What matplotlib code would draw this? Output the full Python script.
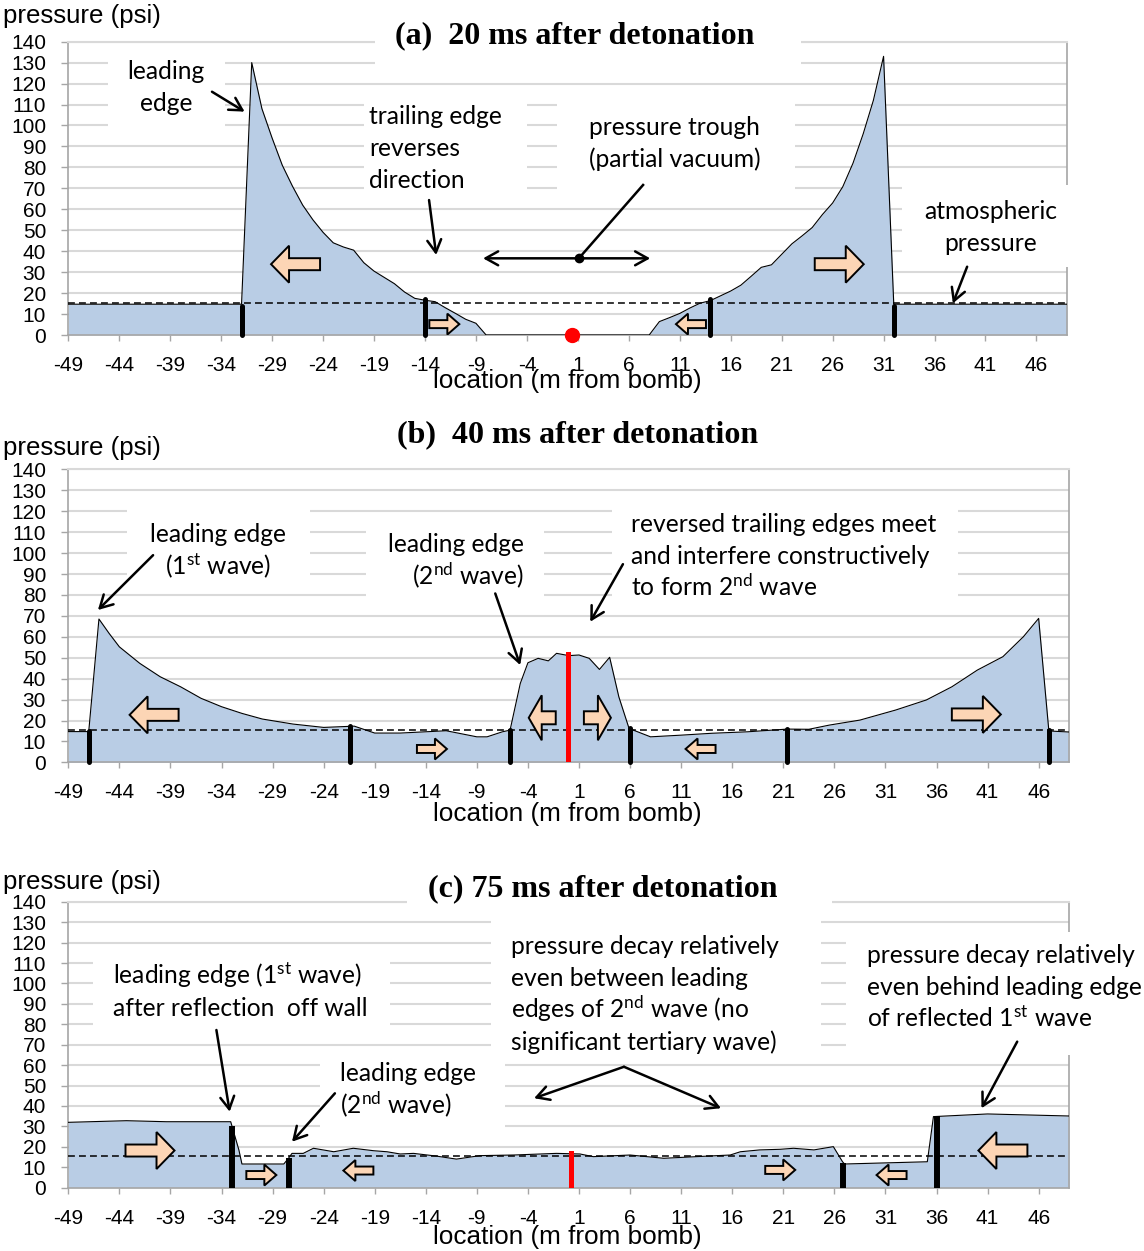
import numpy as np
import matplotlib
matplotlib.use("Agg")
from matplotlib import pyplot as plt
from matplotlib.patches import Polygon, Rectangle
from matplotlib.transforms import ScaledTranslation, IdentityTransform, Bbox

plt.rcParams['mathtext.fontset'] = 'custom'
plt.rcParams['mathtext.rm'] = 'Lato'
plt.rcParams['mathtext.it'] = 'Lato:italic'
plt.rcParams['axes.unicode_minus'] = False

# ---- data ----
# (a) 20 ms
x_a = [-49, -32, -31, -30, -29, -28, -27, -26, -25, -24, -23, -22, -21, -20, -19, -18, -17,
       -16, -15, -14, -13, -12, -11, -10, -9, -8, 8, 9, 10, 11, 12, 13, 14, 15, 16, 17, 18,
       19, 20, 21, 22, 23, 24, 25, 26, 27, 28, 29, 30, 31, 32, 49]
p_a = [14.7, 14.7, 130, 108, 94, 81, 71, 62, 55, 49, 44, 42, 40.5, 34.5, 30.5, 27.5, 24.5,
       20.5, 17.5, 16.6, 15.9, 13, 10.3, 7.5, 5.6, 0, 0, 6.4, 8.3, 10.3, 12.9, 15.2, 16.4, 18.7,
       21, 23.8, 28, 32.3, 33.5, 38.5, 43.5, 47.3, 51.3, 57.5, 63, 70.8, 82, 96, 112, 133, 14.7, 14.7]

# (b) 40 ms
x_b = [-49, -47, -46, -45, -44, -42, -40, -38, -36, -34, -32, -30, -27, -24, -21, -19, -16.5,
       -12, -9, -8, -6.5, -5.75, -4.75, -4, -3, -2, -1.2, 0, 1, 2, 3, 4, 4.9, 5.9, 8, 11, 14,
       17.5, 21.4, 23.5, 25.5, 28.5, 32, 35, 37.5, 40, 42.5, 44.5, 46, 47, 49]
p_b = [14.7, 14.7, 68.5, 61.6, 55.2, 47.3, 40.9, 36.1, 30.6, 26.6, 23.4, 20.7, 18.3, 16.7,
       17.3, 14, 14, 15.1, 12.2, 12.2, 14.6, 15.4, 37.7, 47.6, 49.7, 48.5, 52.1, 51, 51.3, 49.7,
       44.4, 50.2, 31.3, 16.2, 12.2, 13, 13.9, 14.6, 15.9, 15.8, 17.8, 20.2, 25, 29.8, 36.1,
       44.1, 50.5, 60, 68.8, 15, 14.5]

# (c) 75 ms
x_c = [-49, -43.3, -39.4, -33.1, -32.3, -32, -27.9, -27.4, -27.1, -26, -25, -23, -21.1, -19.1,
       -17.8, -16.5, -15.2, -13, -11, -8.7, -5.4, -1.2, 1.1, 2.4, 6, 9.3, 12.5, 15.8, 16.8, 18.7,
       20.7, 22, 24, 25.9, 26.8, 27, 35.1, 35.7, 41, 49]
p_c = [32, 32.8, 32.3, 32.3, 18.5, 11.6, 11.6, 14.7, 16.8, 16.8, 19.3, 17.6, 19.3, 18.1,
       17.6, 16.5, 16.8, 15.5, 14, 15.7, 16, 16.8, 16.5, 15.2, 16, 14.4, 15.2, 16, 17.6, 18.5,
       18.8, 19.3, 18.5, 20.1, 12.7, 11.6, 12.7, 34.8, 36.1, 35.1]

atm = 15.5  # dashed reference line

# black wave-front markers (x, top)
bars_a = [(-32, 14), (-14, 17), (14, 17), (32, 14)]
bars_b = [(-47, 15), (-21.4, 17.3), (-5.75, 15.4), (6, 16.2), (21.4, 16), (47, 15.4)]
bars_c = [(-33, 30), (-27.4, 14.7), (26.8, 12), (36, 35)]

# block arrows: (x, y, direction, size)
blocks_a = [(-26.7, 33.8, -1, 'big'), (26.65, 33.8, 1, 'big'),
            (-12.1, 5.2, 1, 'small'), (12.1, 5.2, -1, 'small')]
blocks_b = [(-40.6, 22.7, -1, 'big'), (39.9, 22.9, 1, 'big'),
            (-2.6, 21.3, -1, 'tall'), (2.8, 21.3, 1, 'tall'),
            (-13.4, 6.4, 1, 'small'), (12.9, 6.4, -1, 'small')]
blocks_c = [(-41.0, 18.2, 1, 'big'), (42.5, 18.2, -1, 'big'),
            (-30.1, 6.2, 1, 'small'), (-20.6, 8.4, -1, 'small'),
            (20.7, 8.7, 1, 'small'), (31.6, 6.2, -1, 'small')]
# length, head height, shaft height, head length (pixels)
shapes = {'big': (49, 37, 12, 18), 'tall': (27, 45, 13, 13), 'small': (30, 21, 8, 12)}

tick_pos = list(range(-49, 47, 5))

AREA = '#B9CDE5'
PEACH = '#FCD5B5'
GRID = '#D9D9D9'
AXIS = '#A6A6A6'
NOTE = 'Lato'
SANS = 'Liberation Sans'
SERIF = 'Liberation Serif'
W, H = 1144, 1251
LINE = 32  # px between annotation lines

fig = plt.figure(figsize=(W / 100, H / 100), dpi=100)
boxes = []  # white backgrounds behind the notes, sized after a first draw


def fx(px):
    return px / W


def fy(py):
    return 1 - py / H


def setup(ax):
    ax.set_xlim(-49, 49)
    ax.set_ylim(0, 140)
    ax.set_yticks(range(0, 141, 10))
    ax.set_xticks(tick_pos)
    ax.set_xticklabels([str(t) for t in tick_pos], fontfamily=SANS, fontsize=15)
    ax.set_yticklabels([str(t) for t in range(0, 141, 10)], fontfamily=SANS, fontsize=15)
    ax.grid(axis='y', color=GRID, lw=1.5)
    ax.set_axisbelow(True)
    for s in ['left', 'bottom', 'right']:
        ax.spines[s].set_color(AXIS)
        ax.spines[s].set_linewidth(1.2)
    ax.spines['top'].set_color(GRID)
    ax.spines['top'].set_linewidth(1.5)
    ax.tick_params(axis='y', length=5, width=1, color=AXIS, pad=11)
    ax.tick_params(axis='x', length=4.5, width=1, color=AXIS, pad=10.5)


def block(ax, x, y, d, kind):
    L, Hh, S, HL = [v / 100 for v in shapes[kind]]
    pts = [(-L / 2, -S / 2), (L / 2 - HL, -S / 2), (L / 2 - HL, -Hh / 2), (L / 2, 0),
           (L / 2 - HL, Hh / 2), (L / 2 - HL, S / 2), (-L / 2, S / 2)]
    pts = [(d * a, b) for a, b in pts]
    tr = fig.dpi_scale_trans + ScaledTranslation(x, y, ax.transData)
    ax.add_patch(Polygon(pts, closed=True, fc=PEACH, ec='black', lw=1.4,
                         transform=tr, zorder=6))


def profile(ax, xs, ps, bars, blocks, capstyle='round', barw=3.6):
    ax.fill_between(xs, 0, ps, color=AREA, lw=0, zorder=2)
    ax.plot(xs, ps, color='black', lw=0.8, zorder=3)
    ax.axhline(atm, color='black', lw=1.1, dashes=(4.5, 2.7), zorder=4)
    for bx, top in bars:
        ax.plot([bx, bx], [0, top], color='black', lw=barw, solid_capstyle=capstyle,
                zorder=5, clip_on=False)
    for b in blocks:
        block(ax, *b)


def arrow(ax, tail, tip, style='->'):
    ax.annotate('', xy=tip, xytext=tail,
                arrowprops=dict(arrowstyle=style + ',head_length=0.45,head_width=0.25',
                                mutation_scale=20, lw=1.8, color='black',
                                shrinkA=0, shrinkB=0), zorder=7)


def note(ax, x, y, lines, ha='left', pads=(8, 8, 8, 8)):
    # one text per line so the spacing stays even with superscripts
    n = len(lines)
    texts = []
    for i, s in enumerate(lines):
        dy = -((i - (n - 1) / 2) * LINE + 7) / 100
        tr = ax.transData + ScaledTranslation(0, dy, fig.dpi_scale_trans)
        texts.append(ax.text(x, y, s, fontfamily=NOTE, fontsize=17.7, ha=ha, va='baseline',
                             transform=tr, zorder=4.6))
    boxes.append((ax, texts, pads))


def title(ax, x, y, s, pads=None):
    t = ax.text(x, y, s, fontfamily=SERIF, fontweight='bold', fontsize=23, ha='center',
                va='center', zorder=4.6)
    if pads:
        boxes.append((ax, [t], pads))


def labels(ylab_py, xlab_py):
    fig.text(fx(3), fy(ylab_py), 'pressure (psi)', fontfamily=SANS, fontsize=18.6,
             ha='left', va='center')
    fig.text(fx(567), fy(xlab_py), 'location (m from bomb)', fontfamily=SANS, fontsize=18.8,
             ha='center', va='center')


# pads are (left, right, top, bottom) in pixels around the text

# ---------- (a) ----------
ax_a = fig.add_axes([0.0597, 0.7322, 0.8730, 0.2345])
setup(ax_a)
profile(ax_a, x_a, p_a, bars_a, blocks_a)
ax_a.plot([0.4], [0], 'o', color='red', ms=10, zorder=6, clip_on=False)
title(ax_a, 0.68, 142.7, '(a)  20 ms after detonation', pads=(20, 47, 4, 24))
note(ax_a, -39.4, 117.9, ['leading', 'edge'], ha='center', pads=(20, 20, 10, 16))
arrow(ax_a, (-34.9, 116.1), (-31.7, 106.6))
note(ax_a, -19.5, 88.8, ['trailing edge', 'reverses', 'direction'], pads=(5, 25, 8, 4))
arrow(ax_a, (-13.6, 64.4), (-12.9, 38.2))
note(ax_a, 10.5, 91.2, ['pressure trough', '(partial vacuum)'], pads=(32, 35, 18, 24),
     ha='center')
arrow(ax_a, (-8.3, 36.6), (8.1, 36.6), style='<->')
ax_a.plot([7.4, 1.1], [71.6, 36.6], color='black', lw=1.8, zorder=7)
ax_a.plot([1.1], [36.6], 'o', color='black', ms=6, zorder=8)
note(ax_a, 41.5, 51.1, ['atmospheric', 'pressure'], ha='center', pads=(22, 15, 15, 12))
arrow(ax_a, (39.2, 32.6), (37.8, 15.1))
labels(16, 381)

# ---------- (b) ----------
ax_b = fig.add_axes([0.0597, 0.3906, 0.875, 0.2342])
setup(ax_b)
profile(ax_b, x_b, p_b, bars_b, blocks_b)
ax_b.plot([-0.1, -0.1], [0, 52], color='red', lw=3.6, zorder=5)
title(ax_b, 0.84, 156.4, '(b)  40 ms after detonation')
note(ax_b, -34.3, 101, ['leading edge', '(1$^{\\mathrm{st}}$ wave)'], ha='center',
     pads=(23, 24, 16, 10))
arrow(ax_b, (-40.7, 99), (-46.1, 72.8))
note(ax_b, -4.4, 96.2, ['leading edge', '(2$^{\\mathrm{nd}}$ wave)'], ha='right',
     pads=(22, 20, 10, 10))
arrow(ax_b, (-7.2, 80.7), (-4.76, 46.5))
note(ax_b, 6.1, 97.9, ['reversed trailing edges meet', 'and interfere constructively',
                       'to form 2$^{\\mathrm{nd}}$ wave'], pads=(19, 22, 8, 4))
arrow(ax_b, (5.3, 94.7), (2.1, 67.2))
labels(448, 814)

# ---------- (c) ----------
ax_c = fig.add_axes([0.0597, 0.0506, 0.875, 0.2286])
setup(ax_c)
profile(ax_c, x_c, p_c, bars_c, blocks_c, capstyle='butt', barw=4.3)
ax_c.plot([0.2, 0.2], [0, 16.8], color='red', lw=3.6, zorder=5)
title(ax_c, 3.3, 146.5, '(c) 75 ms after detonation', pads=(21, 55, 2, 8))
note(ax_c, -44.6, 95.5, ['leading edge (1$^{\\mathrm{st}}$ wave)',
                         'after reflection  off wall'], pads=(20, 22, 8, 8))
arrow(ax_c, (-34.5, 77.2), (-33.2, 37.2))
note(ax_c, -22.4, 47.8, ['leading edge', '(2$^{\\mathrm{nd}}$ wave)'], pads=(20, 29, 4, 12))
arrow(ax_c, (-22.9, 46.2), (-27.1, 22.5))
note(ax_c, -5.7, 94.3, ['pressure decay relatively', 'even between leading',
                        'edges of 2$^{\\mathrm{nd}}$ wave (no', 'significant tertiary wave)'],
     pads=(20, 43, 18, 3))
arrow(ax_c, (5.4, 59.2), (-3.4, 43.8))
arrow(ax_c, (5.4, 59.2), (14.9, 38.9))
note(ax_c, 29.2, 98, ['pressure decay relatively', 'even behind leading edge',
                      'of reflected 1$^{\\mathrm{st}}$ wave'], pads=(21, 30, 12, 24))
arrow(ax_c, (43.9, 71.5), (40.4, 38.9))
labels(881.7, 1237)

# white boxes behind the notes (hide gridlines, like the text boxes of the original)
fig.canvas.draw()
renderer = fig.canvas.get_renderer()
for ax, texts, (l, r, t, b) in boxes:
    bb = Bbox.union([tx.get_window_extent(renderer) for tx in texts])
    ax.add_artist(Rectangle((bb.x0 - l, bb.y0 - b), bb.width + l + r, bb.height + t + b,
                            transform=IdentityTransform(), fc='white', ec='none',
                            zorder=4.4, clip_on=False))

fig.savefig('out.png', dpi=100, facecolor='white')
